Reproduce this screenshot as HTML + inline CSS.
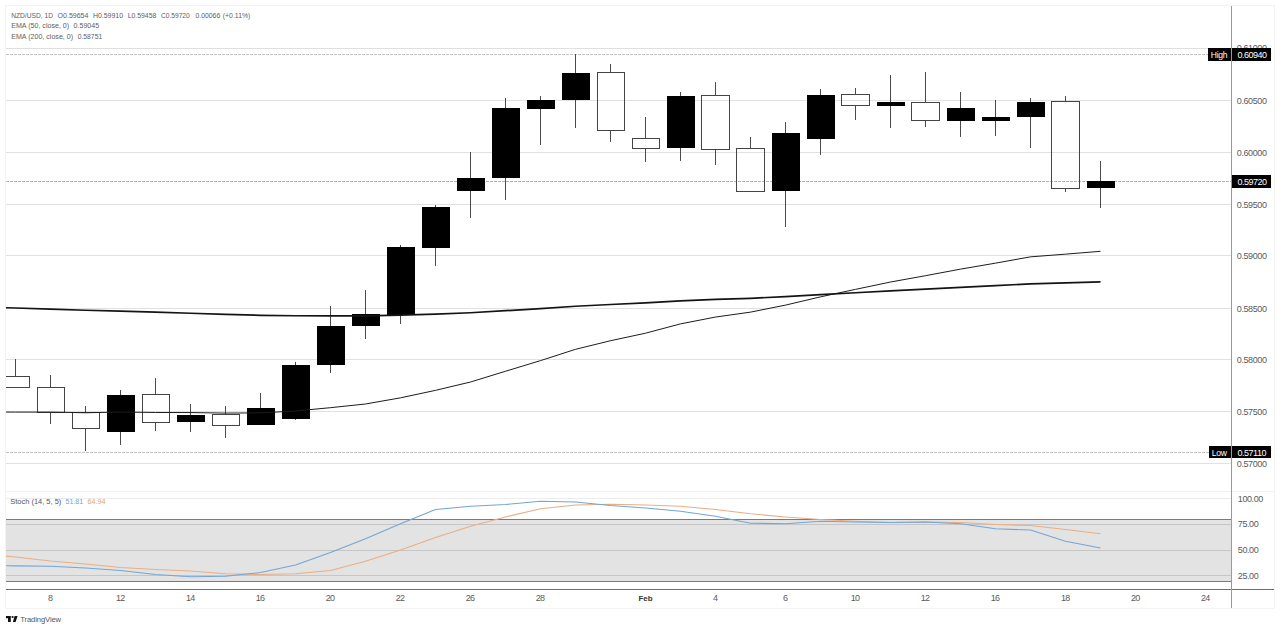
<!DOCTYPE html><html><head><meta charset="utf-8"><style>
html,body{margin:0;padding:0;background:#fff;width:1280px;height:630px;overflow:hidden}
svg{position:absolute;left:0;top:0;display:block}
text{font-family:"Liberation Sans", sans-serif}
</style></head><body>
<svg width="1280" height="630" viewBox="0 0 1280 630">
<defs><clipPath id="cp"><rect x="6" y="6" width="1225" height="485"/></clipPath><clipPath id="cs"><rect x="6" y="492" width="1225" height="97"/></clipPath></defs>
<rect x="5.5" y="5.5" width="1269" height="603" fill="none" stroke="#f3f3f3" stroke-width="1"/>
<rect x="6" y="48" width="1225" height="1" fill="#e1e1e1"/>
<rect x="6" y="100" width="1225" height="1" fill="#e1e1e1"/>
<rect x="6" y="152" width="1225" height="1" fill="#e1e1e1"/>
<rect x="6" y="204" width="1225" height="1" fill="#e1e1e1"/>
<rect x="6" y="255" width="1225" height="1" fill="#e1e1e1"/>
<rect x="6" y="308" width="1225" height="1" fill="#e1e1e1"/>
<rect x="6" y="359" width="1225" height="1" fill="#e1e1e1"/>
<rect x="6" y="411" width="1225" height="1" fill="#e1e1e1"/>
<rect x="6" y="463" width="1225" height="1" fill="#e1e1e1"/>
<rect x="6" y="491" width="1268" height="1" fill="#f1f1f1"/>
<rect x="6" y="519" width="1225" height="62" fill="#e3e3e3"/>
<rect x="6" y="524" width="1225" height="1" fill="#c6c6c6"/>
<rect x="6" y="550" width="1225" height="1" fill="#c6c6c6"/>
<rect x="6" y="575" width="1225" height="1" fill="#c6c6c6"/>
<rect x="6" y="498" width="1225" height="1" fill="#ececec"/>
<rect x="6" y="519" width="1225" height="1" fill="#7a7a7a"/>
<rect x="6" y="581" width="1225" height="1" fill="#7a7a7a"/>
<rect x="6" y="589" width="1268" height="1" fill="#6e6e6e"/>
<rect x="1231" y="6" width="1" height="602" fill="#9a9a9a"/>
<line x1="6" y1="54.5" x2="1231" y2="54.5" stroke="#c4c4c4" stroke-width="1" stroke-dasharray="3 1"/>
<line x1="6" y1="181.5" x2="1231" y2="181.5" stroke="#b4b4b4" stroke-width="1" stroke-dasharray="3 1"/>
<line x1="6" y1="452.5" x2="1231" y2="452.5" stroke="#c4c4c4" stroke-width="1" stroke-dasharray="3 1"/>
<g clip-path="url(#cp)">
<rect x="2.5" y="376.5" width="27" height="11" fill="none" stroke="#444" stroke-width="1"/>
<rect x="15" y="359" width="1" height="17" fill="#4a4a4a"/>
<rect x="37.5" y="387.5" width="27" height="25" fill="none" stroke="#444" stroke-width="1"/>
<rect x="50" y="375" width="1" height="12" fill="#4a4a4a"/>
<rect x="50" y="413" width="1" height="11" fill="#4a4a4a"/>
<rect x="72.5" y="412.5" width="27" height="16" fill="none" stroke="#444" stroke-width="1"/>
<rect x="85" y="406" width="1" height="6" fill="#4a4a4a"/>
<rect x="85" y="429" width="1" height="22" fill="#4a4a4a"/>
<rect x="107" y="395" width="28" height="37" fill="#000"/>
<rect x="120" y="390" width="1" height="5" fill="#4a4a4a"/>
<rect x="120" y="432" width="1" height="13" fill="#4a4a4a"/>
<rect x="142.5" y="394.5" width="27" height="28" fill="none" stroke="#444" stroke-width="1"/>
<rect x="155" y="378" width="1" height="16" fill="#4a4a4a"/>
<rect x="155" y="423" width="1" height="8" fill="#4a4a4a"/>
<rect x="177" y="415" width="28" height="7" fill="#000"/>
<rect x="190" y="404" width="1" height="11" fill="#4a4a4a"/>
<rect x="190" y="422" width="1" height="10" fill="#4a4a4a"/>
<rect x="212.5" y="414.5" width="27" height="11" fill="none" stroke="#444" stroke-width="1"/>
<rect x="225" y="406" width="1" height="8" fill="#4a4a4a"/>
<rect x="225" y="426" width="1" height="12" fill="#4a4a4a"/>
<rect x="247" y="408" width="28" height="17" fill="#000"/>
<rect x="260" y="393" width="1" height="15" fill="#4a4a4a"/>
<rect x="282" y="365" width="28" height="54" fill="#000"/>
<rect x="295" y="362" width="1" height="3" fill="#4a4a4a"/>
<rect x="295" y="419" width="1" height="1" fill="#4a4a4a"/>
<rect x="317" y="326" width="28" height="39" fill="#000"/>
<rect x="330" y="306" width="1" height="20" fill="#4a4a4a"/>
<rect x="330" y="365" width="1" height="8" fill="#4a4a4a"/>
<rect x="352" y="314" width="28" height="12" fill="#000"/>
<rect x="365" y="290" width="1" height="24" fill="#4a4a4a"/>
<rect x="365" y="326" width="1" height="13" fill="#4a4a4a"/>
<rect x="387" y="247" width="28" height="68" fill="#000"/>
<rect x="400" y="245" width="1" height="2" fill="#4a4a4a"/>
<rect x="400" y="315" width="1" height="9" fill="#4a4a4a"/>
<rect x="422" y="207" width="28" height="41" fill="#000"/>
<rect x="435" y="205" width="1" height="2" fill="#4a4a4a"/>
<rect x="435" y="248" width="1" height="18" fill="#4a4a4a"/>
<rect x="457" y="178" width="28" height="13" fill="#000"/>
<rect x="470" y="152" width="1" height="26" fill="#4a4a4a"/>
<rect x="470" y="191" width="1" height="27" fill="#4a4a4a"/>
<rect x="492" y="108" width="28" height="70" fill="#000"/>
<rect x="505" y="98" width="1" height="10" fill="#4a4a4a"/>
<rect x="505" y="178" width="1" height="22" fill="#4a4a4a"/>
<rect x="527" y="100" width="28" height="9" fill="#000"/>
<rect x="540" y="96" width="1" height="4" fill="#4a4a4a"/>
<rect x="540" y="109" width="1" height="36" fill="#4a4a4a"/>
<rect x="562" y="73" width="28" height="27" fill="#000"/>
<rect x="575" y="54" width="1" height="19" fill="#4a4a4a"/>
<rect x="575" y="100" width="1" height="28" fill="#4a4a4a"/>
<rect x="597.5" y="72.5" width="27" height="58" fill="none" stroke="#444" stroke-width="1"/>
<rect x="610" y="64" width="1" height="8" fill="#4a4a4a"/>
<rect x="610" y="131" width="1" height="11" fill="#4a4a4a"/>
<rect x="632.5" y="138.5" width="27" height="10" fill="none" stroke="#444" stroke-width="1"/>
<rect x="645" y="117" width="1" height="21" fill="#4a4a4a"/>
<rect x="645" y="149" width="1" height="13" fill="#4a4a4a"/>
<rect x="667" y="96" width="28" height="52" fill="#000"/>
<rect x="680" y="92" width="1" height="4" fill="#4a4a4a"/>
<rect x="680" y="148" width="1" height="13" fill="#4a4a4a"/>
<rect x="701.5" y="95.5" width="28" height="54" fill="none" stroke="#444" stroke-width="1"/>
<rect x="715" y="82" width="1" height="13" fill="#4a4a4a"/>
<rect x="715" y="150" width="1" height="15" fill="#4a4a4a"/>
<rect x="736.5" y="148.5" width="28" height="43" fill="none" stroke="#444" stroke-width="1"/>
<rect x="750" y="137" width="1" height="11" fill="#4a4a4a"/>
<rect x="772" y="133" width="28" height="58" fill="#000"/>
<rect x="785" y="122" width="1" height="11" fill="#4a4a4a"/>
<rect x="785" y="191" width="1" height="36" fill="#4a4a4a"/>
<rect x="807" y="95" width="28" height="44" fill="#000"/>
<rect x="820" y="89" width="1" height="6" fill="#4a4a4a"/>
<rect x="820" y="139" width="1" height="16" fill="#4a4a4a"/>
<rect x="841.5" y="94.5" width="28" height="11" fill="none" stroke="#444" stroke-width="1"/>
<rect x="855" y="88" width="1" height="6" fill="#4a4a4a"/>
<rect x="855" y="106" width="1" height="14" fill="#4a4a4a"/>
<rect x="877" y="102" width="28" height="4" fill="#000"/>
<rect x="890" y="75" width="1" height="27" fill="#4a4a4a"/>
<rect x="890" y="106" width="1" height="22" fill="#4a4a4a"/>
<rect x="911.5" y="102.5" width="28" height="18" fill="none" stroke="#444" stroke-width="1"/>
<rect x="925" y="72" width="1" height="30" fill="#4a4a4a"/>
<rect x="925" y="121" width="1" height="6" fill="#4a4a4a"/>
<rect x="947" y="108" width="28" height="13" fill="#000"/>
<rect x="960" y="92" width="1" height="16" fill="#4a4a4a"/>
<rect x="960" y="121" width="1" height="16" fill="#4a4a4a"/>
<rect x="982" y="117" width="28" height="4" fill="#000"/>
<rect x="995" y="100" width="1" height="17" fill="#4a4a4a"/>
<rect x="995" y="121" width="1" height="15" fill="#4a4a4a"/>
<rect x="1017" y="102" width="28" height="15" fill="#000"/>
<rect x="1030" y="98" width="1" height="4" fill="#4a4a4a"/>
<rect x="1030" y="117" width="1" height="31" fill="#4a4a4a"/>
<rect x="1051.5" y="101.5" width="28" height="87" fill="none" stroke="#444" stroke-width="1"/>
<rect x="1065" y="96" width="1" height="5" fill="#4a4a4a"/>
<rect x="1065" y="189" width="1" height="3" fill="#4a4a4a"/>
<rect x="1087" y="181" width="28" height="7" fill="#000"/>
<rect x="1100" y="161" width="1" height="20" fill="#4a4a4a"/>
<rect x="1100" y="188" width="1" height="20" fill="#4a4a4a"/>
<polyline fill="none" stroke="#1c1c1c" stroke-width="1.0" stroke-linejoin="round" points="-19.5,412.07 15.5,412.08 50.5,412.10 85.5,412.76 120.5,412.06 155.5,412.47 190.5,412.57 225.5,413.08 260.5,412.89 295.5,411.01 330.5,407.68 365.5,404.00 400.5,397.83 435.5,390.35 470.5,382.00 505.5,371.26 540.5,360.61 575.5,349.32 610.5,340.73 645.5,333.19 680.5,323.89 715.5,317.05 750.5,312.13 785.5,305.12 820.5,296.87 855.5,289.36 890.5,282.02 925.5,275.69 960.5,269.13 995.5,263.15 1030.5,256.84 1065.5,254.17 1100.5,251.30"/>
<polyline fill="none" stroke="#141414" stroke-width="1.7" stroke-linejoin="round" points="-19.5,306.98 15.5,308.02 50.5,309.06 85.5,310.25 120.5,311.10 155.5,312.20 190.5,313.23 225.5,314.34 260.5,315.28 295.5,315.77 330.5,315.88 365.5,315.86 400.5,315.17 435.5,314.09 470.5,312.73 505.5,310.70 540.5,308.60 575.5,306.25 610.5,304.50 645.5,302.95 680.5,300.89 715.5,299.38 750.5,298.31 785.5,296.67 820.5,294.66 855.5,292.77 890.5,290.88 925.5,289.18 960.5,287.38 995.5,285.69 1030.5,283.86 1065.5,282.91 1100.5,281.90"/>
</g>
<g clip-path="url(#cs)">
<polyline fill="none" stroke="#eaae84" stroke-width="1.15" stroke-linejoin="round" points="-19.5,553.50 15.5,557.00 50.5,561.00 85.5,564.00 120.5,567.50 155.5,569.50 190.5,571.00 225.5,573.70 260.5,574.50 295.5,573.70 330.5,570.50 365.5,561.25 400.5,550.00 435.5,537.50 470.5,526.25 505.5,517.00 540.5,508.75 575.5,505.00 610.5,504.25 645.5,505.00 680.5,506.25 715.5,509.50 750.5,513.75 785.5,517.00 820.5,519.50 855.5,521.25 890.5,522.50 925.5,522.00 960.5,522.50 995.5,524.50 1030.5,525.50 1065.5,529.50 1100.5,533.75"/>
<polyline fill="none" stroke="#74a6d4" stroke-width="1.15" stroke-linejoin="round" points="-19.5,565.60 15.5,565.80 50.5,566.30 85.5,568.00 120.5,570.50 155.5,574.50 190.5,576.80 225.5,576.30 260.5,572.50 295.5,565.00 330.5,552.50 365.5,538.75 400.5,523.75 435.5,509.50 470.5,506.25 505.5,504.50 540.5,501.25 575.5,502.00 610.5,505.50 645.5,508.00 680.5,511.25 715.5,516.25 750.5,523.25 785.5,523.75 820.5,521.25 855.5,522.00 890.5,522.50 925.5,522.00 960.5,523.75 995.5,528.75 1030.5,530.00 1065.5,541.25 1100.5,548.00"/>
</g>
<text x="1236.8" y="104.1" font-size="9" fill="#5a5a5a" letter-spacing="-0.4">0.60500</text>
<text x="1236.8" y="156.1" font-size="9" fill="#5a5a5a" letter-spacing="-0.4">0.60000</text>
<text x="1236.8" y="208.1" font-size="9" fill="#5a5a5a" letter-spacing="-0.4">0.59500</text>
<text x="1236.8" y="259.1" font-size="9" fill="#5a5a5a" letter-spacing="-0.4">0.59000</text>
<text x="1236.8" y="312.1" font-size="9" fill="#5a5a5a" letter-spacing="-0.4">0.58500</text>
<text x="1236.8" y="363.1" font-size="9" fill="#5a5a5a" letter-spacing="-0.4">0.58000</text>
<text x="1236.8" y="415.1" font-size="9" fill="#5a5a5a" letter-spacing="-0.4">0.57500</text>
<text x="1236.8" y="467.1" font-size="9" fill="#5a5a5a" letter-spacing="-0.4">0.57000</text>
<text x="1236.8" y="51.0" font-size="9" fill="#5a5a5a" letter-spacing="-0.4">0.61000</text>
<text x="1237.8" y="502.1" font-size="9" fill="#5a5a5a" letter-spacing="-0.4">100.00</text>
<text x="1237.8" y="527.1" font-size="9" fill="#5a5a5a" letter-spacing="-0.4">75.00</text>
<text x="1237.8" y="553.1" font-size="9" fill="#5a5a5a" letter-spacing="-0.4">50.00</text>
<text x="1237.8" y="579.1" font-size="9" fill="#5a5a5a" letter-spacing="-0.4">25.00</text>
<rect x="1208" y="48" width="23" height="13" fill="#000"/>
<rect x="1232" y="48" width="39" height="13" fill="#000"/>
<text x="1210.8" y="58" font-size="8.6" fill="#fff" letter-spacing="-0.3">High</text>
<text x="1237.6" y="58" font-size="9" fill="#fff" letter-spacing="-0.5">0.60940</text>
<rect x="1232" y="175" width="39" height="13" fill="#000"/>
<text x="1237.6" y="185" font-size="9" fill="#fff" letter-spacing="-0.5">0.59720</text>
<rect x="1209" y="446" width="22" height="12" fill="#000"/>
<rect x="1232" y="446" width="39" height="12" fill="#000"/>
<text x="1211.8" y="455.5" font-size="8.6" fill="#fff" letter-spacing="-0.3">Low</text>
<text x="1237.6" y="455.5" font-size="9" fill="#fff" letter-spacing="-0.5">0.57110</text>
<text x="50.1" y="601" font-size="9" fill="#5a5a5a" letter-spacing="-0.7" text-anchor="middle">8</text>
<text x="120.2" y="601" font-size="9" fill="#5a5a5a" letter-spacing="-0.7" text-anchor="middle">12</text>
<text x="190.2" y="601" font-size="9" fill="#5a5a5a" letter-spacing="-0.7" text-anchor="middle">14</text>
<text x="260.1" y="601" font-size="9" fill="#5a5a5a" letter-spacing="-0.7" text-anchor="middle">16</text>
<text x="330.1" y="601" font-size="9" fill="#5a5a5a" letter-spacing="-0.7" text-anchor="middle">20</text>
<text x="400.1" y="601" font-size="9" fill="#5a5a5a" letter-spacing="-0.7" text-anchor="middle">22</text>
<text x="470.1" y="601" font-size="9" fill="#5a5a5a" letter-spacing="-0.7" text-anchor="middle">26</text>
<text x="540.1" y="601" font-size="9" fill="#5a5a5a" letter-spacing="-0.7" text-anchor="middle">28</text>
<text x="715.1" y="601" font-size="9" fill="#5a5a5a" letter-spacing="-0.7" text-anchor="middle">4</text>
<text x="785.1" y="601" font-size="9" fill="#5a5a5a" letter-spacing="-0.7" text-anchor="middle">6</text>
<text x="855.1" y="601" font-size="9" fill="#5a5a5a" letter-spacing="-0.7" text-anchor="middle">10</text>
<text x="925.1" y="601" font-size="9" fill="#5a5a5a" letter-spacing="-0.7" text-anchor="middle">12</text>
<text x="995.1" y="601" font-size="9" fill="#5a5a5a" letter-spacing="-0.7" text-anchor="middle">16</text>
<text x="1065.2" y="601" font-size="9" fill="#5a5a5a" letter-spacing="-0.7" text-anchor="middle">18</text>
<text x="1135.2" y="601" font-size="9" fill="#5a5a5a" letter-spacing="-0.7" text-anchor="middle">20</text>
<text x="1205.2" y="601" font-size="9" fill="#5a5a5a" letter-spacing="-0.7" text-anchor="middle">24</text>
<text x="645.5" y="601" font-size="7.9" fill="#333" font-weight="bold" text-anchor="middle">Feb</text>
<text y="17.8" font-size="7.5" fill="#606060"><tspan x="11.2" textLength="41.8" lengthAdjust="spacingAndGlyphs">NZD/USD, 1D</tspan><tspan x="57.6" textLength="30.8" lengthAdjust="spacingAndGlyphs">O0.59654</tspan><tspan x="92.9" textLength="30.2" lengthAdjust="spacingAndGlyphs">H0.59910</tspan><tspan x="127.7" textLength="28.6" lengthAdjust="spacingAndGlyphs">L0.59458</tspan><tspan x="161.0" textLength="28.7" lengthAdjust="spacingAndGlyphs">C0.59720</tspan><tspan x="195.5" textLength="24.7" lengthAdjust="spacingAndGlyphs">0.00066</tspan><tspan x="222.8" textLength="27.6" lengthAdjust="spacingAndGlyphs">(+0.11%)</tspan></text>
<text y="28.3" font-size="7.5" fill="#606060"><tspan x="11.2" textLength="58.0" lengthAdjust="spacingAndGlyphs">EMA (50, close, 0)</tspan><tspan x="73.6" textLength="25.6" lengthAdjust="spacingAndGlyphs">0.59045</tspan></text>
<text y="38.8" font-size="7.5" fill="#606060"><tspan x="11.2" textLength="61.9" lengthAdjust="spacingAndGlyphs">EMA (200, close, 0)</tspan><tspan x="77.7" textLength="24.5" lengthAdjust="spacingAndGlyphs">0.58751</tspan></text>
<text y="504.2" font-size="7.6" fill="#555"><tspan x="10.3" textLength="51.0" lengthAdjust="spacingAndGlyphs">Stoch (14, 5, 5)</tspan><tspan x="65.6" textLength="17.6" lengthAdjust="spacingAndGlyphs" fill="#6aa6d6">51.81</tspan><tspan x="87.6" textLength="18.0" lengthAdjust="spacingAndGlyphs" fill="#e3a26e">64.94</tspan></text>
<g fill="#111"><path d="M6,616 H10.8 V622 H8 V618.2 H6 Z"/><circle cx="12.6" cy="617" r="1.1"/><path d="M14.6,616 H17.6 L15.6,622 H12.9 Z"/></g>
<text x="20.3" y="622.3" font-size="7.6" fill="#555" letter-spacing="-0.1">TradingView</text>
</svg></body></html>
